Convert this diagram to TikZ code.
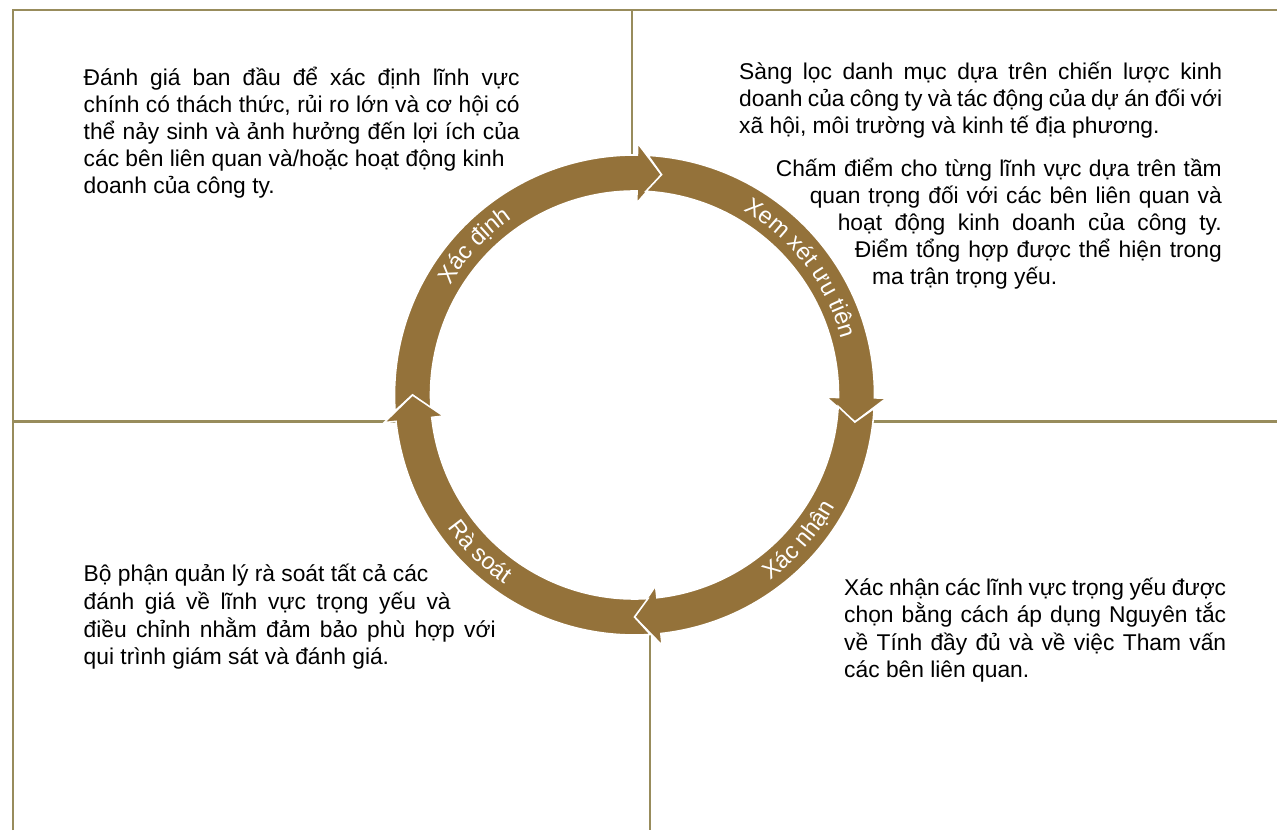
\documentclass[tikz,border=0pt]{standalone}
\usepackage{fontspec}
\setmainfont{Liberation Sans}
\usetikzlibrary{decorations.text}
\definecolor{ringbrown}{RGB}{148,114,58}
\definecolor{gridline}{RGB}{152,140,92}
\newcommand{\bodyfont}{\fontsize{22.8pt}{27pt}\selectfont}
\newcommand{\ringfont}{\fontsize{23.5pt}{27pt}\selectfont}
% ring segment: #1 tail angle (notch tip), #2 head angle (tip)
\newcommand{\ringseg}[2]{%
  \path[segstyle] ({#1}:222) -- ({#1+3.8}:204)
    arc[start angle={#1+3.8}, end angle={#2+6.3}, radius=204]
    -- ({#2+6.3}:192) -- ({#2}:222) -- ({#2+6.3}:252) -- ({#2+6.3}:240)
    arc[start angle={#2+6.3}, end angle={#1+3.8}, radius=240] -- cycle;}
\tikzset{
  frame/.style={draw=gridline, line width=2.4pt},
  segstyle/.style={fill=ringbrown, draw=white, line width=1.6pt, line join=miter},
  ln/.style={anchor=base west, inner sep=0pt, font=\bodyfont, text=black},
  lnr/.style={anchor=base east, inner sep=0pt, font=\bodyfont, text=black},
  ringlabel/.style={decorate, decoration={text along path, text align=center, text={|\ringfont\color{white}|#1}}}
}
\begin{document}
\begin{tikzpicture}[x=1pt, y=1pt]
\useasboundingbox (0,0) rectangle (1277,830);
\fill[white] (0,0) rectangle (1277,830);
% frame lines
\coordinate (fBL) at (13,0);
\coordinate (fTL) at (13,820);
\coordinate (fTR) at (1277,820);
\coordinate (vTopA) at (632,820);
\coordinate (vTopB) at (632,650);
\coordinate (hLA) at (13,408.5);
\coordinate (hLB) at (410,408.5);
\coordinate (hRA) at (860,408.5);
\coordinate (hRB) at (1277,408.5);
\coordinate (vBotA) at (650,215);
\coordinate (vBotB) at (650,0);
\draw[frame] (fBL) -- (fTL) -- (fTR);
\draw[frame] (vTopA) -- (vTopB);
\draw[frame] (hLA) -- (hLB);
\draw[frame] (hRA) -- (hRB);
\draw[frame] (vBotA) -- (vBotB);
% ring
\begin{scope}[shift={(634.5,435)}]
  \ringseg{180}{83}
  \ringseg{83}{-7}
  \ringseg{-7}{-90}
  \ringseg{-90}{-180}
  \path[ringlabel={Xác định}] (167:214.5) arc[start angle=167, end angle=107, radius=214.5];
  \path[ringlabel={Xem xét ưu tiên}] (77.3:214.5) arc[start angle=77.3, end angle=-2.7, radius=214.5];
  \path[ringlabel={Xác nhận}] (-81.4:229.5) arc[start angle=-81.4, end angle=-1.4, radius=229.5];
  \path[ringlabel={Rà soát}] (-174.6:229.5) arc[start angle=-174.6, end angle=-94.6, radius=229.5];
\end{scope}
% top-left text
\node[ln] (tl1) at (83.5,744) {\makebox[436pt][s]{Đánh giá ban đầu để xác định lĩnh vực}};
\node[ln] (tl2) at (83.5,717) {\makebox[436pt][s]{chính có thách thức, rủi ro lớn và cơ hội có}};
\node[ln] (tl3) at (83.5,690) {\makebox[436pt][s]{thể nảy sinh và ảnh hưởng đến lợi ích của}};
\node[ln] (tl4) at (83.5,663) {các bên liên quan và/hoặc hoạt động kinh};
\node[ln] (tl5) at (83.5,636) {doanh của công ty.};
% top-right text, first paragraph
\node[ln] (tr1) at (739,750) {\makebox[483pt][s]{Sàng lọc danh mục dựa trên chiến lược kinh}};
\node[ln] (tr2) at (739,723) {\makebox[483pt][s]{doanh của công ty và tác động của dự án đối với}};
\node[ln] (tr3) at (739,696) {xã hội, môi trường và kinh tế địa phương.};
% top-right text, second paragraph
\node[lnr] (ts1) at (1222,653) {\makebox[446pt][s]{Chấm điểm cho từng lĩnh vực dựa trên tầm}};
\node[lnr] (ts2) at (1222,626) {\makebox[412pt][s]{quan trọng đối với các bên liên quan và}};
\node[lnr] (ts3) at (1222,599) {\makebox[384pt][s]{hoạt động kinh doanh của công ty.}};
\node[lnr] (ts4) at (1222,572) {\makebox[367pt][s]{Điểm tổng hợp được thể hiện trong}};
\node[ln] (ts5) at (872,545) {ma trận trọng yếu.};
% bottom-left text
\node[ln] (bl1) at (83.5,248) {Bộ phận quản lý rà soát tất cả các};
\node[ln] (bl2) at (83.5,220) {\makebox[367pt][s]{đánh giá về lĩnh vực trọng yếu và}};
\node[ln] (bl3) at (83.5,192) {\makebox[412pt][s]{điều chỉnh nhằm đảm bảo phù hợp với}};
\node[ln] (bl4) at (83.5,165) {qui trình giám sát và đánh giá.};
% bottom-right text
\node[ln] (br1) at (844,234) {\makebox[382pt][s]{Xác nhận các lĩnh vực trọng yếu được}};
\node[ln] (br2) at (844,207) {\makebox[382pt][s]{chọn bằng cách áp dụng Nguyên tắc}};
\node[ln] (br3) at (844,179) {\makebox[382pt][s]{về Tính đầy đủ và về việc Tham vấn}};
\node[ln] (br4) at (844,152) {các bên liên quan.};
\end{tikzpicture}
\end{document}
